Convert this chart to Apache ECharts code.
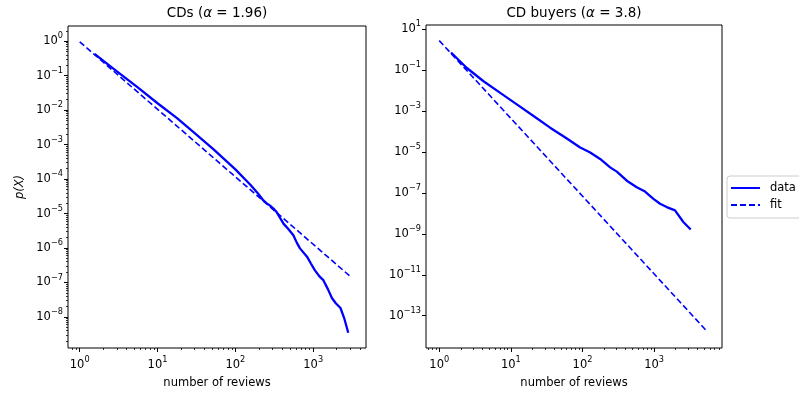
<!DOCTYPE html>
<html><head><meta charset="utf-8">
<script src="https://cdn.jsdelivr.net/npm/echarts@6/dist/echarts.min.js"></script>
<style>html,body{margin:0;padding:0;background:#fff}#c{width:799px;height:394px}</style>
</head><body><div id="c"></div>
<script>
// ---- data ----
const leftDataX = [1.55, 2.95, 5.62, 10, 17.8, 31.6, 52.5, 100, 158, 200, 229, 251, 279, 316, 339, 380, 417, 479, 556, 617, 676, 832, 933, 1047, 1202, 1349, 1549, 1738, 1950, 2239, 2512, 2818];
const leftDataY = [0.427, 0.138, 0.0447, 0.0158, 5.89e-3, 1.95e-3, 7.24e-4, 1.91e-4, 6.61e-5, 3.55e-5, 2.40e-5, 2.00e-5, 1.70e-5, 1.32e-5, 1.10e-5, 7.08e-6, 5.01e-6, 3.55e-6, 2.34e-6, 1.41e-6, 9.77e-7, 5.62e-7, 3.55e-7, 2.29e-7, 1.51e-7, 1.17e-7, 6.31e-8, 3.55e-8, 2.51e-8, 1.82e-8, 8.91e-9, 3.47e-9];
const leftFitX = [1, 3100];
const leftFitY = [0.96, 1.4e-7];

const rightDataX = [1.46, 1.96, 2.43, 4.15, 7.10, 12.1, 20.7, 35.3, 60.4, 92.7, 128, 176, 243, 301, 415, 571, 746, 977, 1208, 1496, 1954, 2553, 3236];
const rightDataY = [0.731, 0.267, 0.128, 0.0288, 7.76e-3, 2.14e-3, 5.75e-4, 1.55e-4, 4.57e-5, 1.66e-5, 9.55e-6, 4.57e-6, 1.78e-6, 1.10e-6, 3.98e-7, 1.91e-7, 1.17e-7, 5.13e-8, 2.95e-8, 2.04e-8, 1.41e-8, 3.80e-9, 1.62e-9];
const rightFitX = [1, 5400];
const rightFitY = [2.8, 1.8e-14];

const leftXTickExp = [0, 1, 2, 3];
const leftYTickExp = [-8, -7, -6, -5, -4, -3, -2, -1, 0];
const rightXTickExp = [0, 1, 2, 3];
const rightYTickExp = [-13, -11, -9, -7, -5, -3, -1, 1];

const leftTitle = 'CDs ({i|α} = 1.96)';
const rightTitle = 'CD buyers ({i|α} = 3.8)';
const xName = 'number of reviews';
const yName = 'p(X)';
const seriesNames = ['data', 'fit'];

// ---- helpers ----
const FONT = 'DejaVu Sans';
const BLUE = '#0000ff';
const zip = (a, b) => a.map((v, i) => [v, b[i]]);
const pows = exps => exps.map(e => Math.pow(10, e));
function minorVals(e0, e1) {
  const out = [];
  for (let e = e0; e <= e1; e++) for (let k = 2; k <= 9; k++) out.push(k * Math.pow(10, e));
  return out;
}
function supLabel(v) {
  const e = Math.round(Math.log10(v));
  return '{b|10}{s|' + (e < 0 ? '\u2212' + (-e) : e) + '}';
}
const rich = {
  b: {fontSize: 11.5, lineHeight: 18, fontFamily: FONT, color: '#000'},
  s: {fontSize: 8.2, lineHeight: 8, verticalAlign: 'top', fontFamily: FONT, color: '#000'}
};
const nameStyle = {fontSize: 11.5, fontFamily: FONT, color: '#000'};

function majorAxis(grid, pos, lo, hi, exps, extra) {
  const vals = pows(exps);
  return Object.assign({
    type: 'log', logBase: 10, gridIndex: grid, position: pos,
    min: Math.pow(10, lo), max: Math.pow(10, hi),
    axisLine: {show: false}, splitLine: {show: false},
    axisTick: {show: true, customValues: vals, length: 4, lineStyle: {color: '#000', width: 1}},
    axisLabel: {customValues: vals, formatter: supLabel, rich: rich, margin: pos === 'bottom' ? 8 : 5, color: '#000'}
  }, extra || {});
}
function minorAxis(grid, pos, lo, hi) {
  return {
    type: 'log', logBase: 10, gridIndex: grid, position: pos,
    min: Math.pow(10, lo), max: Math.pow(10, hi),
    axisLine: {show: false}, splitLine: {show: false}, axisLabel: {show: false},
    axisTick: {show: true, customValues: minorVals(Math.floor(lo) - 1, Math.ceil(hi)), length: 2, lineStyle: {color: '#000', width: 0.8}}
  };
}

const LX = [-0.15, 3.678], LY = [-8.9, 0.44], RX = [-0.185, 3.947], RY = [-14.58, 1.21];

const chart = echarts.init(document.getElementById('c'));
chart.setOption({
  animation: false,
  backgroundColor: '#fff',
  grid: [
    {left: 68, top: 26, width: 298, height: 324, show: true, borderColor: '#000', borderWidth: 1, backgroundColor: 'transparent'},
    {left: 426, top: 25, width: 296, height: 325, show: true, borderColor: '#000', borderWidth: 1, backgroundColor: 'transparent'}
  ],
  xAxis: [
    majorAxis(0, 'bottom', LX[0], LX[1], leftXTickExp, {name: xName, nameLocation: 'middle', nameGap: 29, nameTextStyle: nameStyle}),
    minorAxis(0, 'bottom', LX[0], LX[1]),
    majorAxis(1, 'bottom', RX[0], RX[1], rightXTickExp, {name: xName, nameLocation: 'middle', nameGap: 29, nameTextStyle: nameStyle}),
    minorAxis(1, 'bottom', RX[0], RX[1])
  ],
  yAxis: [
    majorAxis(0, 'left', LY[0], LY[1], leftYTickExp, {name: yName, nameLocation: 'middle', nameGap: 42, nameTextStyle: Object.assign({}, nameStyle, {fontStyle: 'italic'})}),
    minorAxis(0, 'left', LY[0], LY[1]),
    majorAxis(1, 'left', RY[0], RY[1], rightYTickExp)
  ],
  legend: {
    data: seriesNames, orient: 'vertical', left: 727, top: 176,
    itemWidth: 29, itemHeight: 12, itemGap: 5, padding: [6, 8, 7, 3],
    backgroundColor: '#fff', borderColor: '#ccc', borderWidth: 1, borderRadius: 3,
    itemStyle: {opacity: 0, borderWidth: 0},
    textStyle: {fontSize: 11.5, color: '#000', fontFamily: FONT, padding: [0, 0, 0, 5]}
  },
  graphic: [
    {type: 'text', x: 217, y: 13, style: {text: leftTitle, fontSize: 13.5, fontFamily: FONT, fill: '#000', align: 'center', verticalAlign: 'middle', rich: {i: {fontStyle: 'italic', fontSize: 13.5, fontFamily: FONT, fill: '#000'}}}},
    {type: 'text', x: 574, y: 13, style: {text: rightTitle, fontSize: 13.5, fontFamily: FONT, fill: '#000', align: 'center', verticalAlign: 'middle', rich: {i: {fontStyle: 'italic', fontSize: 13.5, fontFamily: FONT, fill: '#000'}}}}
  ],
  series: [
    {name: seriesNames[0], type: 'line', xAxisIndex: 0, yAxisIndex: 0, data: zip(leftDataX, leftDataY), symbol: 'none', lineStyle: {color: BLUE, width: 2.3}, itemStyle: {color: BLUE}},
    {name: seriesNames[1], type: 'line', xAxisIndex: 0, yAxisIndex: 0, data: zip(leftFitX, leftFitY), symbol: 'none', lineStyle: {color: BLUE, width: 1.6, type: [6, 3]}, itemStyle: {color: BLUE}},
    {name: seriesNames[0], type: 'line', xAxisIndex: 2, yAxisIndex: 2, data: zip(rightDataX, rightDataY), symbol: 'none', lineStyle: {color: BLUE, width: 2.3}, itemStyle: {color: BLUE}},
    {name: seriesNames[1], type: 'line', xAxisIndex: 2, yAxisIndex: 2, data: zip(rightFitX, rightFitY), symbol: 'none', lineStyle: {color: BLUE, width: 1.6, type: [6, 3]}, itemStyle: {color: BLUE}}
  ]
});
</script></body></html>
